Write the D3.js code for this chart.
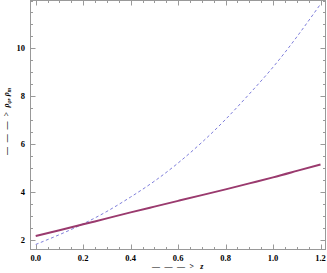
<!DOCTYPE html>
<html>
<head>
<meta charset="utf-8">
<script src="https://cdn.jsdelivr.net/npm/d3@7"></script>
<style>
  body { margin: 0; background: #fff; }
  text { font-family: "Liberation Serif", "DejaVu Serif", serif; }
</style>
</head>
<body>
<svg id="chart" width="327" height="273"></svg>
<script>
// redshift samples
const zValues = [0, 0.1, 0.2, 0.3, 0.4, 0.5, 0.6, 0.7, 0.8, 0.9, 1.0, 1.1, 1.2];
// solid curve (rho_m)
const rhoM = [2.17, 2.41, 2.66, 2.91, 3.16, 3.40, 3.64, 3.88, 4.12, 4.37, 4.62, 4.89, 5.16];
// dashed curve (rho_phi)
const rhoPhi = [1.82, 2.23, 2.68, 3.20, 3.80, 4.46, 5.22, 6.08, 7.04, 8.10, 9.22, 10.48, 11.85];
const xTicks = [0, 0.2, 0.4, 0.6, 0.8, 1.0, 1.2];
const yTicks = [2, 4, 6, 8, 10];

const svg = d3.select("#chart");
const mLeft = 30.5, mRight = 325.5, mTop = 0.5, mBottom = 249.5;

const x = d3.scaleLinear().domain([-0.022, 1.221]).range([mLeft, mRight]);
const y = d3.scaleLinear().domain([1.61, 12]).range([mBottom, mTop]);

// frame
svg.append("rect")
  .attr("x", mLeft).attr("y", mTop)
  .attr("width", mRight - mLeft).attr("height", mBottom - mTop)
  .attr("fill", "none").attr("stroke", "#999").attr("stroke-width", 1);

// ticks (inward on all four sides)
const xMinor = d3.range(0, 1.2001, 0.05).filter(v => !xTicks.some(t => Math.abs(t - v) < 1e-6));
const yMinor = d3.range(2, 12.0001, 0.5).filter(v => !yTicks.some(t => Math.abs(t - v) < 1e-6));
const tickG = svg.append("g").attr("stroke", "#999").attr("stroke-width", 1);

function xTick(v, len) {
  const px = Math.round(x(v)) + 0.5;
  tickG.append("line").attr("x1", px).attr("x2", px).attr("y1", mBottom).attr("y2", mBottom - len);
  tickG.append("line").attr("x1", px).attr("x2", px).attr("y1", mTop).attr("y2", mTop + len);
}
function yTick(v, len) {
  const py = Math.round(y(v)) + 0.5;
  tickG.append("line").attr("y1", py).attr("y2", py).attr("x1", mLeft).attr("x2", mLeft + len);
  tickG.append("line").attr("y1", py).attr("y2", py).attr("x1", mRight).attr("x2", mRight - len);
}
xTicks.forEach(v => xTick(v, 5));
xMinor.forEach(v => xTick(v, 2.5));
yTicks.forEach(v => yTick(v, 5));
yMinor.forEach(v => yTick(v, 2.5));

// tick labels
svg.append("g").selectAll("text").data(xTicks).join("text")
  .attr("x", d => x(d)).attr("y", 261)
  .attr("text-anchor", "middle")
  .attr("font-size", 8.5).attr("font-weight", "bold")
  .text(d => d.toFixed(1));

svg.append("g").selectAll("text").data(yTicks).join("text")
  .attr("x", 25).attr("y", d => y(d) + 3)
  .attr("text-anchor", "end")
  .attr("font-size", 8.5).attr("font-weight", "bold")
  .text(d => d);

// curves
const line = (vals) => d3.line()
  .x((d, i) => x(zValues[i]))
  .y(d => y(d))
  .curve(d3.curveNatural)(vals);

svg.append("path")
  .attr("d", line(rhoPhi))
  .attr("fill", "none").attr("stroke", "#6f6fd6")
  .attr("stroke-width", 0.9).attr("stroke-dasharray", "3,2.5");

svg.append("path")
  .attr("d", line(rhoM))
  .attr("fill", "none").attr("stroke", "#9a3a6e")
  .attr("stroke-width", 2);

// axis titles
const xt = svg.append("text")
  .attr("x", 152).attr("y", 269)
  .attr("font-size", 8).attr("font-weight", "bold");
xt.append("tspan").attr("textLength", 42).attr("lengthAdjust", "spacing").text("— — — >");
xt.append("tspan").attr("dx", 5).attr("font-style", "italic").text("z");

const yt = svg.append("text")
  .attr("transform", "translate(9,155) rotate(-90)")
  .attr("font-size", 8).attr("font-weight", "bold");
yt.append("tspan").attr("textLength", 43).attr("lengthAdjust", "spacing").text("— — — >");
yt.append("tspan").attr("dx", 3).attr("font-style", "italic").text("ρ");
yt.append("tspan").attr("font-style", "italic").attr("font-size", 5.5).attr("dy", 2).text("φ");
yt.append("tspan").attr("dy", -2).text(", ");
yt.append("tspan").attr("font-style", "italic").text("ρ");
yt.append("tspan").attr("font-style", "italic").attr("font-size", 5.5).attr("dy", 2).text("m");
</script>
</body>
</html>
